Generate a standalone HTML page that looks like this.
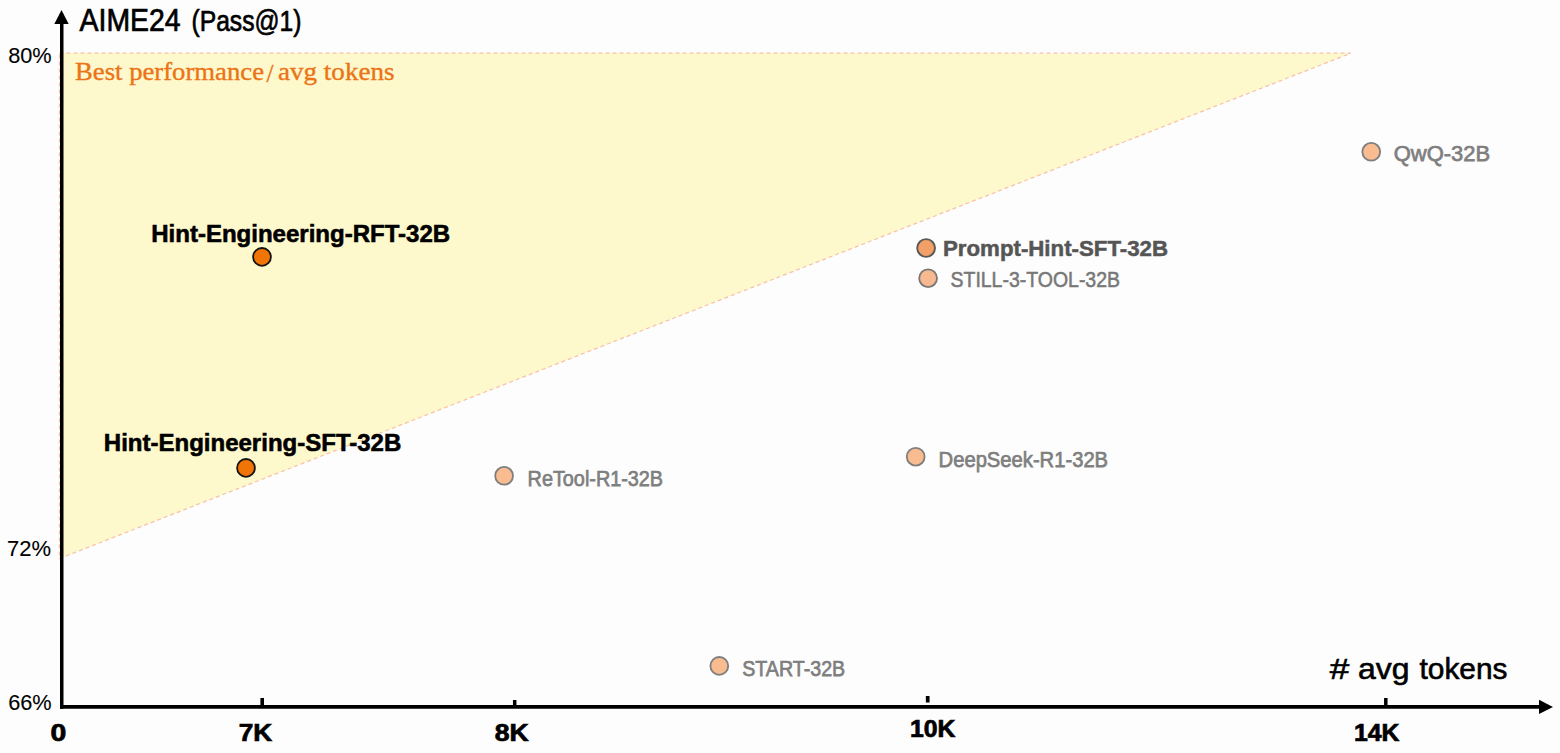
<!DOCTYPE html>
<html>
<head>
<meta charset="utf-8">
<style>
html,body{margin:0;padding:0;background:#fdfdfd;}
body{width:1560px;height:753px;overflow:hidden;}
svg{display:block;}
text{font-family:"Liberation Sans", sans-serif;}
.serif{font-family:"Liberation Serif", serif;}
</style>
</head>
<body>
<svg width="1560" height="753" viewBox="0 0 1560 753">
  <rect x="0" y="0" width="1560" height="753" fill="#fdfdfd"/>
  <!-- triangle region -->
  <polygon points="59.5,53 1350.8,53.2 59.5,558.5" fill="#fef9cd" stroke="#f7c2a8" stroke-width="1.25" stroke-dasharray="4,3"/>

  <!-- y axis -->
  <line x1="61.75" y1="22" x2="61.75" y2="708.7" stroke="#000" stroke-width="3.5"/>
  <polygon points="61.5,10 54.3,24 68.7,24" fill="#000"/>
  <!-- x axis -->
  <line x1="60" y1="706.9" x2="1541" y2="706.9" stroke="#000" stroke-width="3.7"/>
  <polygon points="1553,707 1539,699.8 1539,714.1" fill="#000"/>
  <!-- ticks -->
  <line x1="262.2" y1="698" x2="262.2" y2="706" stroke="#000" stroke-width="3.6"/>
  <line x1="514.7" y1="700" x2="514.7" y2="706" stroke="#000" stroke-width="3.5"/>
  <line x1="927.7" y1="696" x2="927.7" y2="702.5" stroke="#000" stroke-width="3.7"/>
  <line x1="1385.8" y1="698" x2="1385.8" y2="706" stroke="#000" stroke-width="3.5"/>

  <!-- title -->
  <g font-size="30" fill="#000" stroke="#000" stroke-width="0.7">
  <text x="79.6" y="30.8" font-size="31" textLength="101" lengthAdjust="spacingAndGlyphs">AIME24</text>
  <text x="191.5" y="30.8" textLength="110" lengthAdjust="spacingAndGlyphs">(Pass@1)</text>
  </g>
  <!-- y tick labels -->
  <text x="8.2" y="63.3" font-size="22.4" fill="#000" stroke="#000" stroke-width="0.1" textLength="43.5" lengthAdjust="spacingAndGlyphs">80%</text>
  <text x="7" y="556.3" font-size="22.4" fill="#000" stroke="#000" stroke-width="0.1" textLength="44" lengthAdjust="spacingAndGlyphs">72%</text>
  <text x="8.2" y="710" font-size="22.4" fill="#000" stroke="#000" stroke-width="0.1" textLength="43.5" lengthAdjust="spacingAndGlyphs">66%</text>
  <!-- x tick labels -->
  <g font-weight="bold" font-size="23.5" fill="#000" stroke="#000" stroke-width="0.7">
  <text x="50.6" y="741" textLength="15.8" lengthAdjust="spacingAndGlyphs">0</text>
  <text x="238.7" y="741" textLength="33.5" lengthAdjust="spacingAndGlyphs">7K</text>
  <text x="494.8" y="741" textLength="34" lengthAdjust="spacingAndGlyphs">8K</text>
  <text x="910" y="736.7" textLength="45.5" lengthAdjust="spacingAndGlyphs">10K</text>
  <text x="1354" y="741" textLength="45.5" lengthAdjust="spacingAndGlyphs">14K</text>
  </g>
  <!-- x axis title -->
  <g font-size="30" fill="#000" stroke="#000" stroke-width="0.6">
  <text x="1329.8" y="679" textLength="19.5" lengthAdjust="spacingAndGlyphs">#</text>
  <text x="1358" y="679" textLength="51.5" lengthAdjust="spacingAndGlyphs">avg</text>
  <text x="1419.5" y="679" textLength="88" lengthAdjust="spacingAndGlyphs">tokens</text>
  </g>

  <!-- region label -->
  <g font-size="24.5" fill="#eb7417" stroke="#eb7417" stroke-width="0.35">
  <text class="serif" x="75" y="80.3" textLength="189" lengthAdjust="spacingAndGlyphs">Best performance</text>
  <text class="serif" x="266.5" y="81.5" textLength="7" lengthAdjust="spacingAndGlyphs">/</text>
  <text class="serif" x="278" y="80.3" textLength="116.5" lengthAdjust="spacingAndGlyphs">avg tokens</text>
  </g>

  <!-- points -->
  <circle cx="262" cy="256.9" r="8.9" fill="#f07406" stroke="#141414" stroke-width="1.8"/>
  <text x="151.2" y="242.2" font-size="24.7" font-weight="bold" fill="#000" stroke="#000" stroke-width="0.6" textLength="299" lengthAdjust="spacingAndGlyphs">Hint-Engineering-RFT-32B</text>

  <circle cx="246" cy="467.9" r="8.9" fill="#f07406" stroke="#141414" stroke-width="1.8"/>
  <text x="103.8" y="451.2" font-size="24.7" font-weight="bold" fill="#000" stroke="#000" stroke-width="0.6" textLength="297.5" lengthAdjust="spacingAndGlyphs">Hint-Engineering-SFT-32B</text>

  <g fill="#7f7f7f" stroke="#7f7f7f" stroke-width="0.75" font-size="22.9">
  <text x="527.6" y="485.6" textLength="135.5" lengthAdjust="spacingAndGlyphs">ReTool-R1-32B</text>
  <text x="742.2" y="675.8" textLength="103" lengthAdjust="spacingAndGlyphs">START-32B</text>
  <text x="938.6" y="466.6" textLength="169.5" lengthAdjust="spacingAndGlyphs">DeepSeek-R1-32B</text>
  <text x="1393.7" y="161" textLength="96.5" lengthAdjust="spacingAndGlyphs">QwQ-32B</text>
  </g>
  <g fill="#f9bb90" stroke="#7e7e7e" stroke-width="1.8">
  <circle cx="504.1" cy="475.8" r="8.9"/>
  <circle cx="719.3" cy="665.9" r="8.9"/>
  <circle cx="915.7" cy="456.7" r="8.9"/>
  <circle cx="1371.25" cy="151.8" r="8.9"/>
  </g>

  <circle cx="926.1" cy="248" r="8.9" fill="#f3a068" stroke="#585858" stroke-width="1.9"/>
  <text x="943" y="255.9" font-size="21.5" font-weight="bold" fill="#555" stroke="#555" stroke-width="0.5" textLength="225" lengthAdjust="spacingAndGlyphs">Prompt-Hint-SFT-32B</text>

  <circle cx="928.1" cy="278.2" r="8.9" fill="#f8b990" stroke="#777" stroke-width="1.8"/>
  <text x="950.5" y="286.9" font-size="21.5" fill="#787878" stroke="#787878" stroke-width="0.55" textLength="169.5" lengthAdjust="spacingAndGlyphs">STILL-3-TOOL-32B</text>
</svg>
</body>
</html>
